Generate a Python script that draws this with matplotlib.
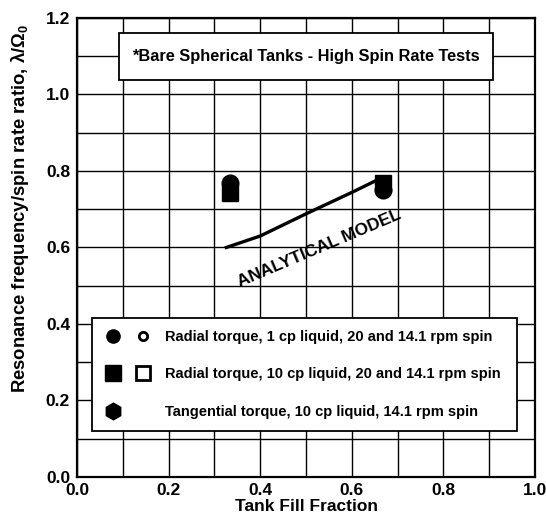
import matplotlib
matplotlib.use("Agg")
import matplotlib.pyplot as plt
from matplotlib.lines import Line2D
from matplotlib.patches import Rectangle
from matplotlib.legend_handler import HandlerTuple

plt.rcParams['font.family'] = ['Liberation Sans', 'DejaVu Sans']
plt.rcParams['mathtext.fontset'] = 'custom'
plt.rcParams['mathtext.rm'] = 'Liberation Sans:bold'
plt.rcParams['mathtext.it'] = 'Liberation Sans:bold'
plt.rcParams['mathtext.bf'] = 'Liberation Sans:bold'

# test data (tank fill fraction vs. resonance ratio)
fill = [0.333, 0.667]
radial_1cp = [0.768, 0.750]
radial_10cp = [0.742, 0.768]
tangential_10cp = [0.752, 0.752]

# analytical model curve
model_x = [0.326, 0.40, 0.50, 0.60, 0.658]
model_y = [0.600, 0.630, 0.688, 0.744, 0.778]

labels = ["Radial torque, 1 cp liquid, 20 and 14.1 rpm spin",
          "Radial torque, 10 cp liquid, 20 and 14.1 rpm spin",
          "Tangential torque, 10 cp liquid, 14.1 rpm spin"]
title_note = "*Bare Spherical Tanks - High Spin Rate Tests"

fig = plt.figure(figsize=(5.46, 5.24), dpi=100)
ax = fig.add_axes([0.141, 0.0897, 0.839, 0.876])

ax.set_xlim(0, 1.0)
ax.set_ylim(0, 1.2)
ax.set_xticks([0, 0.2, 0.4, 0.6, 0.8, 1.0])
ax.set_yticks([0, 0.2, 0.4, 0.6, 0.8, 1.0, 1.2])
ax.set_xticks([i / 10 for i in range(11)], minor=True)
ax.set_yticks([i / 10 for i in range(13)], minor=True)
ax.grid(True, which='both', color='black', linewidth=1.0)
ax.set_axisbelow(True)
ax.tick_params(which='both', length=0, labelsize=12.5)
ax.tick_params(axis='x', pad=4)
ax.tick_params(axis='y', pad=5)
for lab in ax.get_xticklabels() + ax.get_yticklabels():
    lab.set_fontweight('bold')
for s in ax.spines.values():
    s.set_linewidth(1.6)

ax.plot(model_x, model_y, color='black', linewidth=2.4, zorder=3)
ax.text(0.528, 0.598, "ANALYTICAL MODEL", rotation=23, ha='center', va='center',
        fontsize=12.5, fontweight='bold', zorder=4)

ax.plot(fill, radial_1cp, 'o', color='black', markersize=12, zorder=5)
ax.plot(fill, radial_10cp, 's', color='black', markersize=12, zorder=5)
ax.plot(fill, tangential_10cp, 'h', color='black', markersize=12, zorder=5)

# note box at top
ax.add_patch(Rectangle((0.092, 0.865), 0.816, 0.102, transform=ax.transAxes,
                       facecolor='white', edgecolor='black', linewidth=1.3, zorder=6))
ax.text(0.5, 0.917, title_note, transform=ax.transAxes, ha='center', va='center',
        fontsize=11.8, fontweight='bold', zorder=7)

h_fc = Line2D([], [], marker='o', color='black', linestyle='none', markersize=9.5)
h_oc = Line2D([], [], marker='o', markerfacecolor='white', markeredgecolor='black',
              markeredgewidth=2.0, linestyle='none', markersize=6)
h_fs = Line2D([], [], marker='s', color='black', linestyle='none', markersize=11)
h_os = Line2D([], [], marker='s', markerfacecolor='white', markeredgecolor='black',
              markeredgewidth=2.0, linestyle='none', markersize=10)
h_hx = Line2D([], [], marker='h', color='black', linestyle='none', markersize=12)
h_none = Line2D([], [], linestyle='none')

leg = ax.legend([(h_fc, h_oc), (h_fs, h_os), (h_hx, h_none)], labels,
                handler_map={tuple: HandlerTuple(ndivide=None, pad=0.93)},
                loc='lower left', bbox_to_anchor=(0.033, 0.1, 0.928, 0.255),
                mode='expand', fancybox=False, edgecolor='black', framealpha=1,
                prop={'size': 10.5, 'weight': 'bold'}, labelspacing=1.6,
                handlelength=3.25, handletextpad=0.9, borderpad=0.85, borderaxespad=0)
leg.get_frame().set_linewidth(1.3)
leg.set_zorder(6)

ax.set_xlabel("Tank Fill Fraction", fontsize=12.5, fontweight='bold', labelpad=1)
ax.set_ylabel("Resonance frequency/spin rate ratio, λ/Ω$_0$", fontsize=13.3,
              fontweight='bold')
ax.yaxis.set_label_coords(-0.1, 0.585)

fig.savefig("out.png", dpi=100)
